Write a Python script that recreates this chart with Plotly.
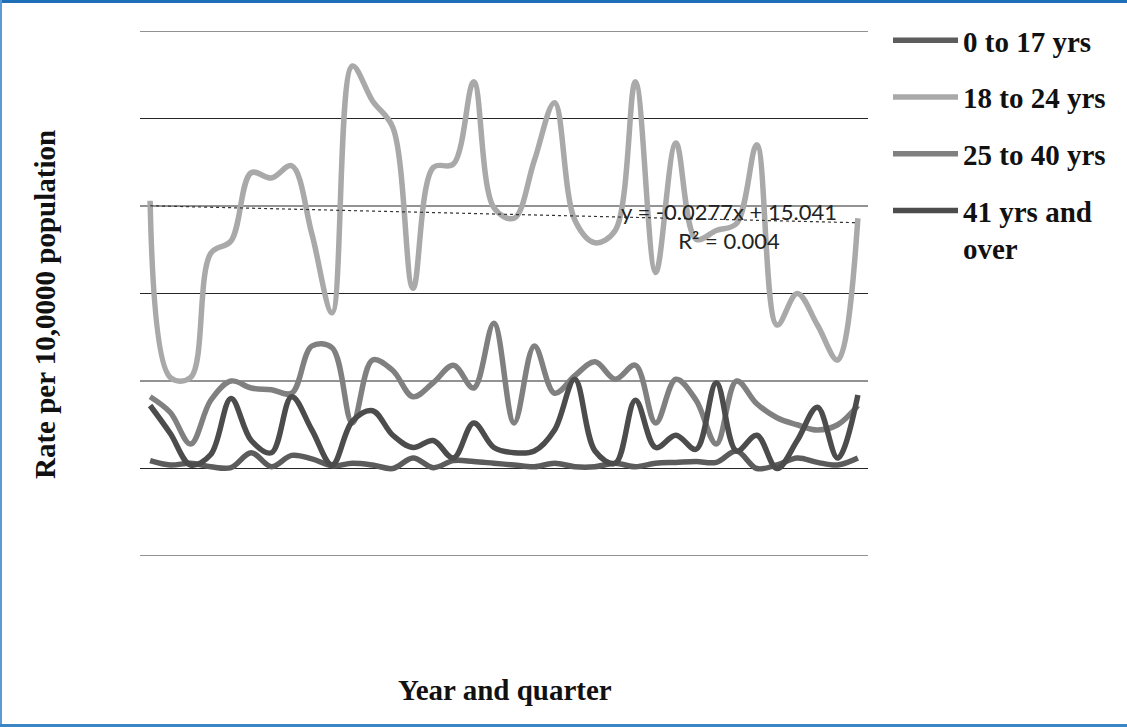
import plotly.graph_objects as go

# ---------------- data ----------------
quarters = list(range(1, 37))

age_0_17 = [0.45, 0.2, 0.3, 0.1, 0.05, 0.9, 0.1, 0.75, 0.55, 0.15,
            0.3, 0.2, 0.0, 0.6, 0.05, 0.45, 0.4, 0.3, 0.2, 0.1,
            0.3, 0.1, 0.1, 0.3, 0.1, 0.3, 0.35, 0.4, 0.35, 1.0,
            0.0, 0.2, 0.6, 0.35, 0.2, 0.6]

age_18_24 = [15.3, 5.2, 5.2, 12.3, 13.0, 16.9, 16.6, 17.3, 13.4, 8.9,
             23.0, 21.0, 19.5, 10.3, 17.2, 17.4, 22.1, 14.9, 14.3, 17.6,
             20.9, 14.2, 12.9, 13.6, 22.1, 11.2, 18.6, 13.1, 13.6, 14.0,
             18.5, 8.2, 10.0, 8.2, 6.2, 14.3]

age_25_40 = [4.1, 3.2, 1.4, 3.9, 5.0, 4.6, 4.5, 4.3, 7.0, 6.9,
             2.6, 6.2, 5.6, 4.1, 4.9, 5.9, 4.6, 8.3, 2.6, 7.0,
             4.3, 5.3, 6.1, 5.1, 5.9, 2.6, 5.1, 3.9, 1.4, 5.0,
             3.7, 2.9, 2.5, 2.2, 2.5, 3.6]

age_41_over = [3.6, 2.0, 0.2, 0.8, 4.0, 1.6, 0.9, 4.1, 2.2, 0.2,
               2.7, 3.3, 1.9, 1.2, 1.6, 0.6, 2.6, 1.2, 0.9, 1.0,
               2.2, 5.1, 1.0, 0.3, 3.9, 1.2, 1.9, 1.1, 4.9, 1.0,
               1.9, 0.0, 1.6, 3.5, 0.6, 4.2]

series_names = ["0 to 17 yrs", "18 to 24 yrs", "25 to 40 yrs", "41 yrs and<br>over"]

y_gridlines = [-5, 0, 5, 10, 15, 20, 25]

trend_slope = -0.0277
trend_intercept = 15.041
trend_r2 = 0.004

# ---------------- layout helpers ----------------
W, H = 1127, 727
L, R, T, B = 140, 868, 31, 556


def px_x(p):
    return (p - L) / (R - L)


def px_y(p):
    return (B - p) / (B - T)


fig = go.Figure()

series = [
    (series_names[0], age_0_17, "#5c5c5c"),
    (series_names[1], age_18_24, "#a9a9a9"),
    (series_names[2], age_25_40, "#808080"),
    (series_names[3], age_41_over, "#4c4c4c"),
]

# gridlines drawn as shapes (so the edge lines are kept)
for g in y_gridlines:
    fig.add_shape(type="line", xref="paper", yref="y", x0=0, x1=1, y0=g, y1=g,
                  line=dict(color="#262626", width=1), layer="below")

for i, (name, vals, col) in enumerate(series):
    fig.add_trace(go.Scatter(
        x=quarters, y=vals, name=name, mode="lines",
        line=dict(color=col, width=5.5, shape="spline", smoothing=1.0),
        legendgroup="g%d" % i,
        hoverinfo="skip",
    ))

trend_y = [trend_slope * q + trend_intercept for q in quarters]
fig.add_trace(go.Scatter(
    x=quarters, y=trend_y, mode="lines", showlegend=False,
    line=dict(color="#333333", width=1.2, dash="dot"),
    hoverinfo="skip",
))

serif = "Liberation Serif"

fig.update_layout(
    width=W, height=H, autosize=False,
    margin=dict(l=L, r=W - R, t=T, b=H - B),
    paper_bgcolor="white", plot_bgcolor="white",
    showlegend=True,
    legend=dict(
        x=px_x(888), y=px_y(15), xanchor="left", yanchor="top",
        font=dict(family=serif, size=29, color="#111111", weight="bold"),
        bgcolor="rgba(0,0,0,0)", tracegroupgap=16, itemwidth=65,
        valign="top", traceorder="grouped",
    ),
    xaxis=dict(range=[0.5, 36.5], showgrid=False, showticklabels=False,
               zeroline=False, showline=False, ticks=""),
    yaxis=dict(range=[-5, 25], showgrid=False, showticklabels=False,
               zeroline=False, showline=False, ticks=""),
)

fig.add_annotation(
    x=px_x(45), y=px_y(305), xref="paper", yref="paper",
    xanchor="center", yanchor="middle",
    text="Rate per 10,0000 population", textangle=-90, showarrow=False,
    font=dict(family=serif, size=29, color="#111111", weight="bold"),
)
fig.add_annotation(
    x=px_x(505), y=px_y(690), xref="paper", yref="paper",
    xanchor="center", yanchor="middle",
    text="Year and quarter", showarrow=False,
    font=dict(family=serif, size=29, color="#111111", weight="bold"),
)
fig.add_annotation(
    x=px_x(729), y=px_y(226), xref="paper", yref="paper",
    xanchor="center", yanchor="middle",
    text="y = %.4fx + %.3f<br>R² = %.3f" % (trend_slope, trend_intercept, trend_r2),
    showarrow=False, align="center",
    font=dict(family="Lato", size=22, color="#222222"),
)

# blue frame
border = [
    (0, 0, W, 3, "#1f6fb8"),
    (0, 0, 2, H, "#5b9bd5"),
    (0, H - 3, W, H, "#3a86c4"),
]
for x0, y0, x1, y1, c in border:
    fig.add_shape(type="rect", xref="paper", yref="paper",
                  x0=px_x(x0), x1=px_x(x1), y0=px_y(y1), y1=px_y(y0),
                  fillcolor=c, line=dict(width=0), layer="above")

fig.write_html("out.html", config={"displayModeBar": False},
               post_script="document.body.style.margin='0';")
